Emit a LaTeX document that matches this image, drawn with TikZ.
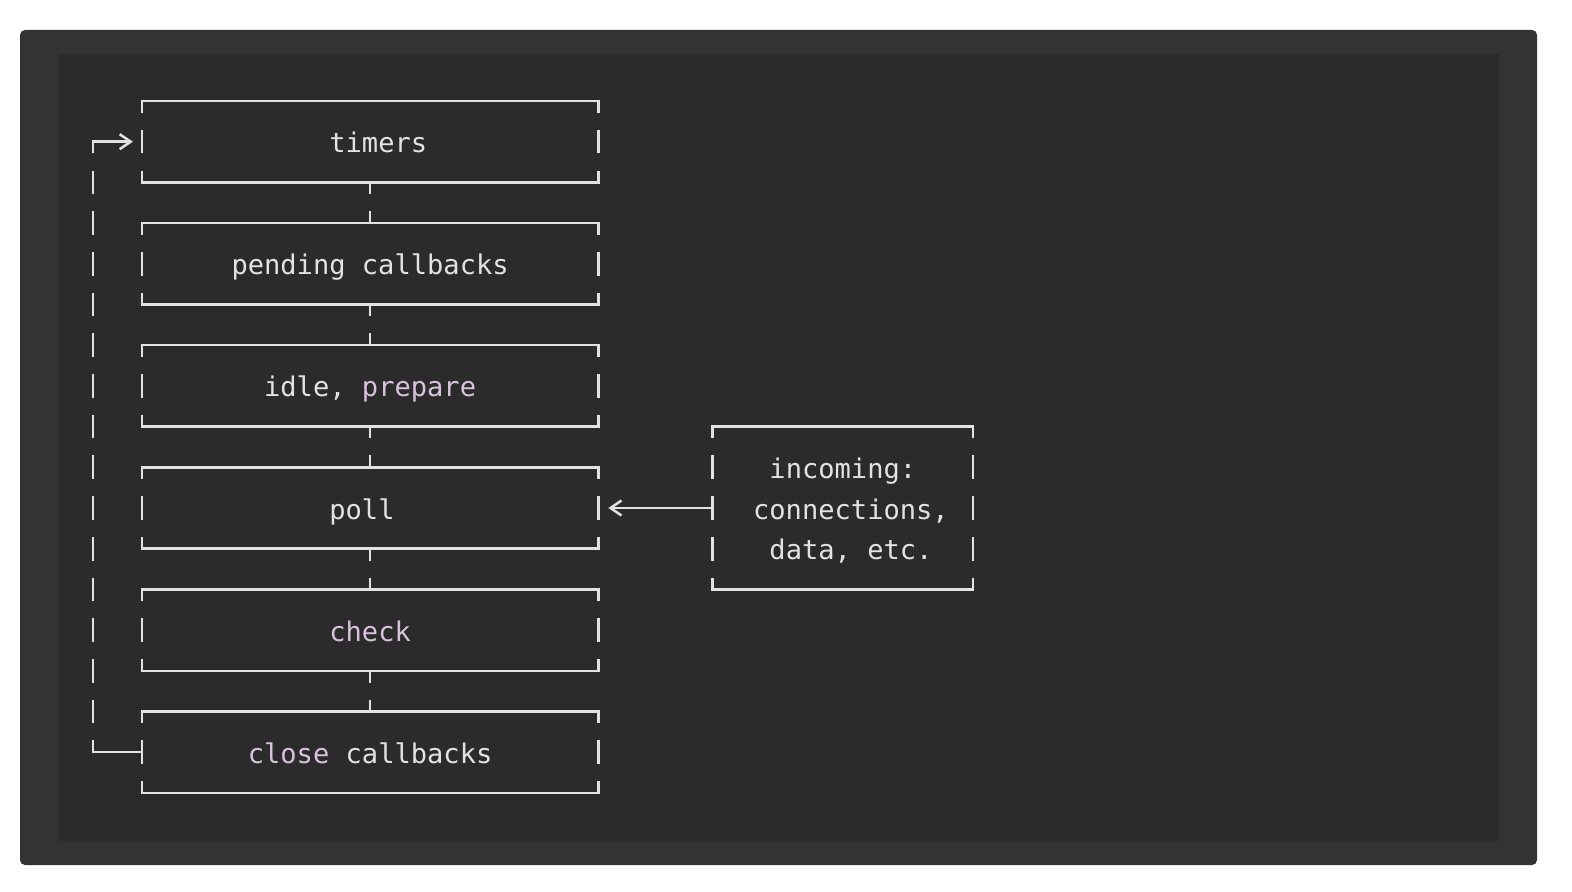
\documentclass[tikz,border=0pt]{standalone}
\usepackage{fontspec}
\newfontfamily\mono{DejaVu Sans Mono}
\usetikzlibrary{arrows.meta}
\definecolor{frame}{HTML}{333333}
\definecolor{panel}{HTML}{2B2B2B}
\definecolor{ink}{HTML}{E2E2E2}
\definecolor{kw}{HTML}{D8C2DC}
\newcommand{\cx}[1]{93+16.3*(#1)}
\newcommand{\ry}[1]{101+40.7*(#1)}
\newcommand{\rowstrut}{\rule[-4.5pt]{0pt}{20pt}}

\begin{document}
\begin{tikzpicture}[x=0.5pt,y=-0.5pt,
  boxtext/.style={inner sep=0pt,outer sep=0pt,text=ink,font=\mono\fontsize{13.54pt}{20.35pt}\selectfont},
  phase/.style={boxtext,minimum width=228.2pt,minimum height=40.7pt,text height=15.5pt,text depth=4.5pt},
  source/.style={boxtext,minimum width=130.4pt,minimum height=81.4pt,align=center},
  wire/.style={draw=ink,line width=1.25pt,line cap=rect},
  gapwire/.style={draw=ink,line width=1.25pt,dash pattern=on 11.8pt off 8.55pt,dash phase=5.9pt},
  >={Straight Barb[length=5.5pt,width=7.5pt]}]
\useasboundingbox (0,0) rectangle (1572,892);
\fill[white] (0,0) rectangle (1572,892);
\fill[frame,rounded corners=2.5pt] (20,30) rectangle (1537,865);
\fill[panel] (58,54) rectangle (1499,841);

\node[phase] (timers) at ({\cx{17}},{\ry{1}}) {~timers};
\node[phase] (pending) at ({\cx{17}},{\ry{4}}) {pending callbacks};
\node[phase] (idle) at ({\cx{17}},{\ry{7}}) {idle, \textcolor{kw}{prepare}};
\node[phase] (poll) at ({\cx{17}},{\ry{10}}) {poll\hphantom{l}};
\node[phase,text=kw] (check) at ({\cx{17}},{\ry{13}}) {check};
\node[phase] (close) at ({\cx{17}},{\ry{16}}) {\textcolor{kw}{close} callbacks};
\node[source] (incoming) at ({\cx{46}},{\ry{10}})
  {\rowstrut incoming:\\\rowstrut~connections,\\\rowstrut~data, etc.};

\foreach \b in {timers,pending,idle,poll,check,close,incoming} {
  \draw[wire] (\b.north west) -- (\b.north east);
  \draw[wire] (\b.south west) -- (\b.south east);
  \draw[gapwire] (\b.north west) -- (\b.south west);
  \draw[gapwire] (\b.north east) -- (\b.south east);
}
\foreach \a/\b in {timers/pending,pending/idle,idle/poll,poll/check,check/close}
  \draw[gapwire] (\a.south) -- (\b.north);

\coordinate (loop top) at ({\cx{0}},{\ry{1}});
\coordinate (loop bottom) at ({\cx{0}},{\ry{16}});
\draw[wire] (close.west) -- (loop bottom);
\draw[gapwire] (loop bottom) -- (loop top);
\draw[wire,->,shorten >=4.5pt] (loop top) -- (timers.west);
\draw[wire,->,shorten >=5pt] (incoming.west) -- (poll.east);
\end{tikzpicture}
\end{document}
